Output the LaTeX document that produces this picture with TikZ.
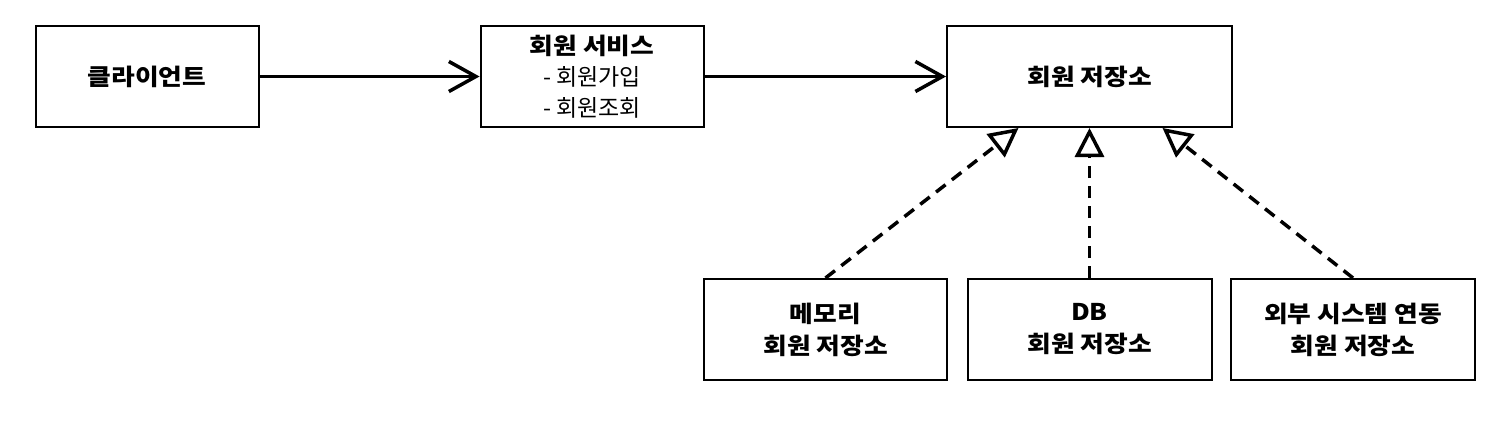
\documentclass[tikz,border=0pt]{standalone}
\usepackage{fontspec}
\setmainfont{Noto Sans CJK KR}[BoldFeatures={FakeStretch=1.12}]
\usetikzlibrary{arrows.meta}
\begin{document}
\begin{tikzpicture}[x=1pt,y=-1pt,
  box/.style={draw, line width=2pt, rectangle, inner sep=0pt, align=center,
    font=\fontsize{23}{31}\selectfont},
  uses/.style={line width=3.5pt, -{Straight Barb[length=27pt,width=30pt,line width=3.5pt]}},
  realizes/.style={line width=3.5pt, dash pattern=on 12pt off 8pt,
    -{Triangle[open,length=29pt,width=29pt,line width=3.5pt]}}]
\useasboundingbox (0,0) rectangle (1506,434);
\node[box, minimum width=223pt, minimum height=101pt] (client) at (147,76.5) {\textbf{클라이언트}};
\node[box, minimum width=223pt, minimum height=101pt] (service) at (592,76.5) {\textbf{회원 서비스}\\- 회원가입\\- 회원조회};
\node[box, minimum width=285pt, minimum height=101pt] (repo) at (1089.5,76.5) {\textbf{회원 저장소}};
\node[box, minimum width=243pt, minimum height=101pt, font=\fontsize{23}{32}\selectfont] (mem) at (825.5,329.5) {\textbf{메모리}\\\textbf{회원 저장소}};
\node[box, minimum width=244pt, minimum height=101pt, font=\fontsize{23}{32}\selectfont] (db) at (1089.5,329.5) {\textbf{DB}\\\textbf{회원 저장소}};
\node[box, minimum width=244pt, minimum height=101pt, font=\fontsize{23}{32}\selectfont] (ext) at (1353,329.5) {\textbf{외부 시스템 연동}\\\textbf{회원 저장소}};
\draw[uses] (client) -- (service);
\draw[uses] (service) -- (repo);
\coordinate (rl) at ([xshift=-71pt]repo.south);
\coordinate (rr) at ([xshift=73pt]repo.south);
\draw[realizes] (mem.north) -- (rl);
\draw[realizes] (db.north) -- (repo.south);
\draw[realizes] (ext.north) -- (rr);
\end{tikzpicture}
\end{document}
